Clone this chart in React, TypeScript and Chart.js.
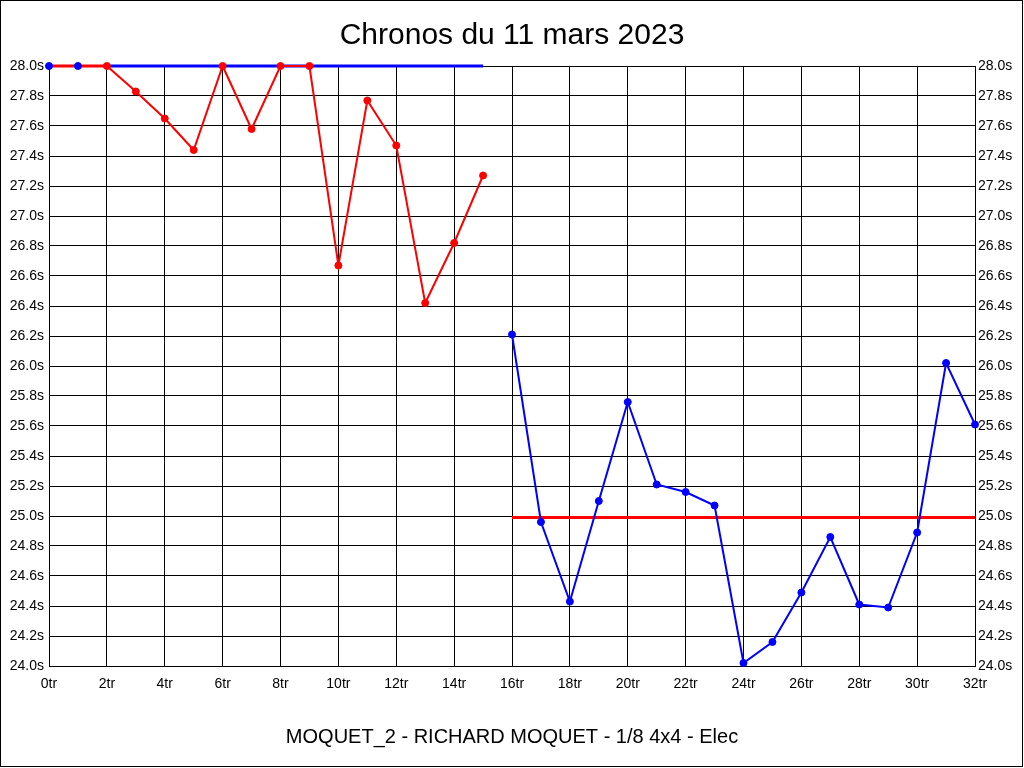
import React, { useEffect, useRef } from "react";
import { Chart, registerables } from "chart.js";

Chart.register(...registerables);

const TITLE = "Chronos du 11 mars 2023";
const SUBTITLE = "MOQUET_2 - RICHARD MOQUET - 1/8 4x4 - Elec";

const redLaps = [2, 3, 4, 5, 6, 7, 8, 9, 10, 11, 12, 13, 14, 15];
const redTimes = [28.0, 27.83, 27.65, 27.44, 28.0, 27.58, 28.0, 28.0, 26.67, 27.77, 27.47, 26.42, 26.82, 27.27];

const blueLaps = [16, 17, 18, 19, 20, 21, 22, 23, 24, 25, 26, 27, 28, 29, 30, 31, 32];
const blueTimes = [26.21, 24.96, 24.43, 25.1, 25.76, 25.21, 25.16, 25.07, 24.02, 24.16, 24.49, 24.86, 24.41, 24.39, 24.89, 26.02, 25.61];

const redStartLaps = [0, 2];
const redStartTimes = [28.0, 28.0];
const blueStartLaps = [0, 1];
const blueStartTimes = [28.0, 28.0];

const blueRefLaps = [2, 15];
const blueRefTimes = [28.0, 28.0];
const redRefLaps = [16, 32];
const redRefTimes = [24.99, 24.99];

const Y_MIN = 24.0;
const Y_MAX = 28.0;
const Y_STEP = 0.2;
const X_MIN = 0;
const X_MAX = 32;
const X_STEP = 2;

const FONT = "'Liberation Sans', Arial, sans-serif";

const pts = (xs: number[], ys: number[]) => xs.map((x, i) => ({ x, y: ys[i] }));

export default function App() {
  const ref = useRef<HTMLCanvasElement | null>(null);

  useEffect(() => {
    if (!ref.current) return;
    const framePlugin = {
      id: "frame",
      beforeDraw(chart: any) {
        const c = chart.ctx;
        c.save();
        c.fillStyle = "#ffffff";
        c.fillRect(0, 0, chart.width, chart.height);
        c.restore();
      },
      afterDraw(chart: any) {
        const c = chart.ctx;
        c.save();
        c.strokeStyle = "#000";
        c.lineWidth = 1;
        c.strokeRect(0.5, 0.5, 1022, 766);
        c.fillStyle = "#000";
        c.textAlign = "center";
        c.textBaseline = "alphabetic";
        c.font = `30px ${FONT}`;
        c.fillText(TITLE, 512, 44);
        c.font = `20px ${FONT}`;
        c.fillText(SUBTITLE, 512, 743);
        c.restore();
      },
    };

    const chart = new Chart(ref.current, {
      type: "line",
      data: {
        datasets: [
          {
            data: pts(blueStartLaps, blueStartTimes),
            borderColor: "#0000ff",
            backgroundColor: "#0000ff",
            showLine: false,
            pointRadius: 3.5,
            pointBorderWidth: 1,
          },
          {
            data: pts(redLaps, redTimes),
            borderColor: "#ff0000",
            backgroundColor: "#ff0000",
            borderWidth: 2,
            pointRadius: 3.5,
            pointBorderWidth: 1,
          },
          {
            data: pts(blueLaps, blueTimes),
            borderColor: "#0000ff",
            backgroundColor: "#0000ff",
            borderWidth: 2,
            pointRadius: 3.5,
            pointBorderWidth: 1,
          },
          {
            data: pts(redStartLaps, redStartTimes),
            borderColor: "#ff0000",
            backgroundColor: "#ff0000",
            borderWidth: 3,
            pointRadius: 0,
          },
          {
            data: pts(blueRefLaps, blueRefTimes),
            borderColor: "#0000ff",
            backgroundColor: "#0000ff",
            borderWidth: 3,
            pointRadius: 0,
          },
          {
            data: pts(redRefLaps, redRefTimes),
            borderColor: "#ff0000",
            backgroundColor: "#ff0000",
            borderWidth: 3,
            pointRadius: 0,
          },
        ],
      },
      options: {
        animation: false,
        responsive: false,
        events: [],
        clip: false as any,
        layout: { padding: { top: 66, left: 0, right: 0, bottom: 0 } },
        plugins: {
          legend: { display: false },
          title: { display: false },
          tooltip: { enabled: false },
        },
        scales: {
          x: {
            type: "linear",
            min: X_MIN,
            max: X_MAX,
            afterFit(s: any) {
              s.height = 102;
            },
            border: { display: true, color: "#000", width: 1 },
            grid: { display: true, color: "#000", lineWidth: 1, drawTicks: false },
            ticks: {
              stepSize: X_STEP,
              padding: 10,
              color: "#000",
              font: { family: FONT, size: 14 },
              maxRotation: 0,
              autoSkip: false,
              callback: (v: any) => `${v}tr`,
            },
          },
          y: {
            type: "linear",
            position: "left",
            min: Y_MIN,
            max: Y_MAX,
            afterFit(s: any) {
              s.width = 49;
            },
            border: { display: true, color: "#000", width: 1 },
            grid: { display: true, color: "#000", lineWidth: 1, drawTicks: false },
            ticks: {
              stepSize: Y_STEP,
              padding: 5,
              color: "#000",
              font: { family: FONT, size: 14 },
              autoSkip: false,
              callback: (v: any) => `${Number(v).toFixed(1)}s`,
            },
          },
          y2: {
            type: "linear",
            position: "right",
            min: Y_MIN,
            max: Y_MAX,
            afterFit(s: any) {
              s.width = 49;
            },
            border: { display: true, color: "#000", width: 1 },
            grid: { display: false, drawTicks: false },
            ticks: {
              stepSize: Y_STEP,
              padding: 3,
              color: "#000",
              font: { family: FONT, size: 14 },
              autoSkip: false,
              callback: (v: any) => `${Number(v).toFixed(1)}s`,
            },
          },
        },
      },
      plugins: [framePlugin],
    } as any);
    return () => chart.destroy();
  }, []);

  return (
    <div style={{ position: "fixed", left: 0, top: 0, width: 1024, height: 768, background: "#fff" }}>
      <canvas ref={ref} width={1024} height={768} style={{ display: "block" }} />
    </div>
  );
}
